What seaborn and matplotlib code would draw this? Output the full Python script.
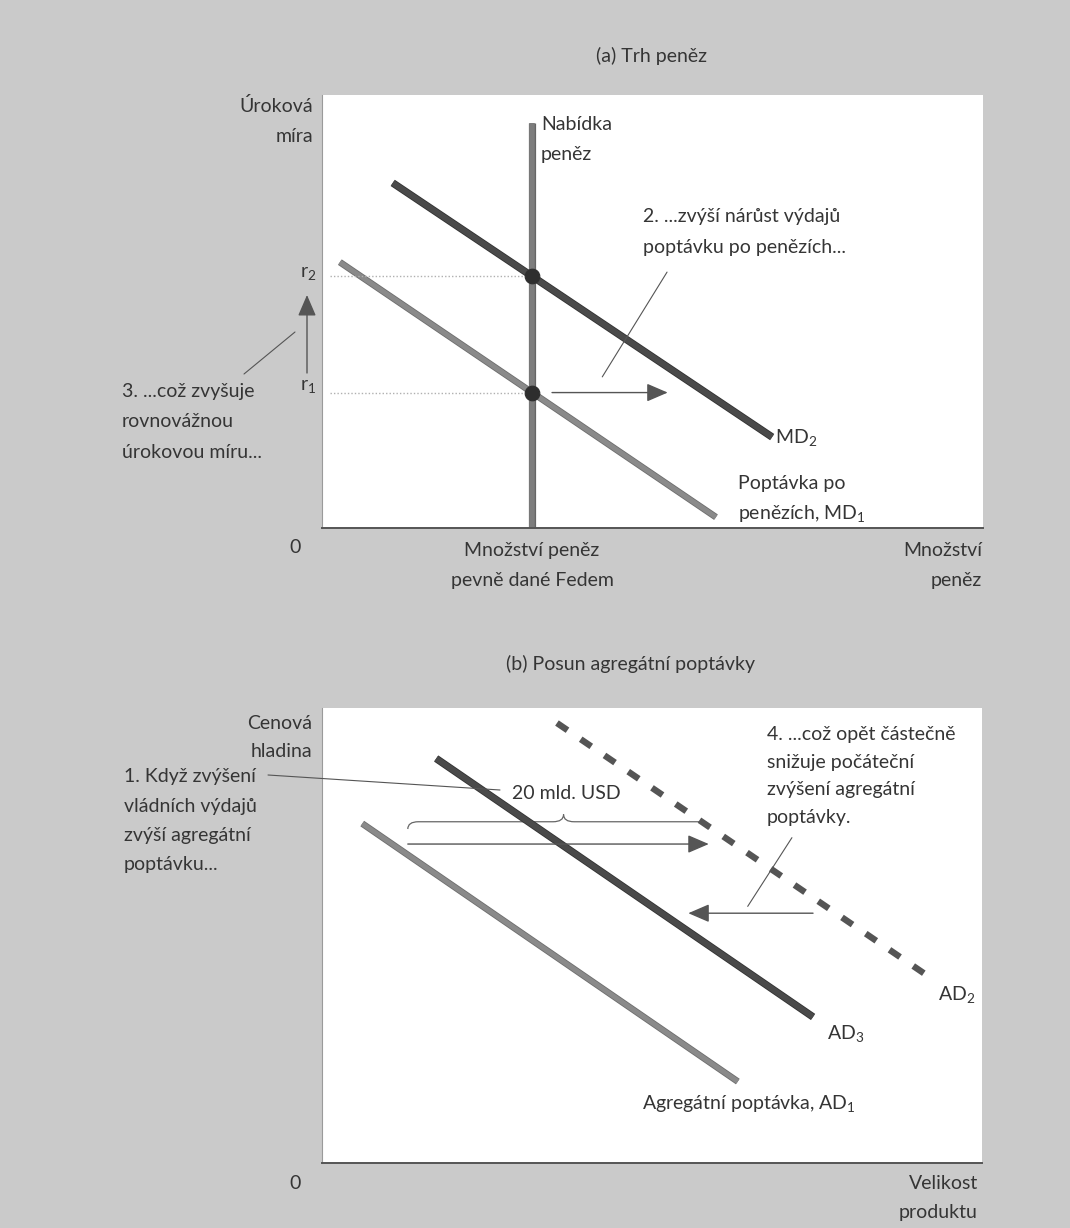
import numpy as np
import pandas as pd
import matplotlib
matplotlib.use("Agg")
import matplotlib.pyplot as plt
import matplotlib.patheffects as pe
from matplotlib.path import Path
from matplotlib.patches import PathPatch
import seaborn as sns

# ---------------- data (abstract units, 0-100) ----------------
# Panel (a): money market
md1_q = [2.7, 59.6]
md1_r = [61.4, 2.5]
md2_q = [10.7, 68.1]
md2_r = [79.7, 21.0]
ms_q = [31.8, 31.8]
ms_r = [0.0, 93.5]

# Panel (b): aggregate demand shift
ad1_y = [6.1, 63.0]
ad1_p = [74.6, 17.9]
ad3_y = [17.3, 74.4]
ad3_p = [88.9, 32.1]
ad2_y = [35.6, 91.7]
ad2_p = [96.7, 41.2]
shift_out = [13.0, 58.6]      # 20 mld. USD shift, at price level
shift_out_p = 70.1
shift_back = [74.4, 55.5]     # crowding-out shift back
shift_back_p = 54.9

W, H = 1070, 1228
BG = "#cacaca"
TC = "#353535"
DARK = "#4a4a4a"
MID = "#8a8a8a"

sns.set_theme(style="white")
plt.rcParams["font.family"] = ["Lato", "DejaVu Sans"]
plt.rcParams["mathtext.fontset"] = "custom"
plt.rcParams["mathtext.rm"] = "Lato"
plt.rcParams["mathtext.it"] = "Lato:italic"
plt.rcParams["mathtext.bf"] = "Lato:bold"

fig = plt.figure(figsize=(W / 100, H / 100), dpi=100, facecolor=BG)


def add_ax(x0, y0, x1, y1):
    ax = fig.add_axes([x0 / W, 1 - y1 / H, (x1 - x0) / W, (y1 - y0) / H])
    ax.set_facecolor("white")
    ax.set_xlim(0, 100)
    ax.set_ylim(0, 100)
    ax.set_xticks([])
    ax.set_yticks([])
    for s in ["top", "right"]:
        ax.spines[s].set_visible(False)
    ax.spines["left"].set_color("#9a9a9a")
    ax.spines["left"].set_linewidth(0.8)
    ax.spines["bottom"].set_color("#555555")
    ax.spines["bottom"].set_linewidth(1.4)
    return ax


def txt(x, y, s, ha="left", size=14, **kw):
    fig.text(x / W, 1 - (y + 7) / H, s, ha=ha, va="baseline", fontsize=size,
             color=TC, **kw)


def line(ax, xs, ys, color, lw, edge, **kw):
    df = pd.DataFrame({"x": xs, "y": ys})
    sns.lineplot(data=df, x="x", y="y", ax=ax, color=color, lw=lw,
                 sort=False, estimator=None, **kw)
    l = ax.lines[-1]
    l.set_solid_capstyle("butt")
    if edge:
        l.set_path_effects([pe.Stroke(linewidth=lw + 1.2, foreground=edge), pe.Normal()])
    return l


ARW = dict(arrowstyle="-|>,head_length=0.65,head_width=0.28", mutation_scale=20,
           lw=1.0, color="#555555", shrinkA=0, shrinkB=0)
LEAD = dict(arrowstyle="-", lw=0.8, color="#555555", shrinkA=0, shrinkB=0)

# ======================= Panel (a) =======================
ax1 = add_ax(322, 95, 983, 528)

line(ax1, ms_q, ms_r, "#7d7d7d", 4.0, "#666666")
line(ax1, md1_q, md1_r, MID, 3.6, "#6e6e6e")
line(ax1, md2_q, md2_r, DARK, 4.2, "#333333")

# equilibrium interest rates
r1 = float(np.interp(ms_q[0], md1_q, md1_r))
r2 = float(np.interp(ms_q[0], md2_q, md2_r))
for r in (r1, r2):
    ax1.plot([1.2, ms_q[0]], [r, r], ls=(0, (1, 1.5)), color="#b0b0b0", lw=1.0)
sns.scatterplot(x=[ms_q[0], ms_q[0]], y=[r1, r2], ax=ax1, color="#2e2e2e",
                s=110, edgecolor="#2e2e2e", zorder=5, legend=False)

# shift arrow of money demand
ax1.annotate("", xy=(52.3, r1), xytext=(34.8, r1), arrowprops=ARW)
# leader line for note 2
ax1.annotate("", xy=(52.2, 59.1), xytext=(42.4, 34.9), arrowprops=LEAD)

# rise of interest rate arrow (left of axis)
ax1.annotate("", xy=(307, H - 295), xytext=(307, H - 373), xycoords="figure pixels",
             textcoords="figure pixels", arrowprops=ARW, annotation_clip=False)
ax1.annotate("", xy=(295, H - 332), xytext=(244, H - 374), xycoords="figure pixels",
             textcoords="figure pixels", arrowprops=LEAD, annotation_clip=False)

txt(652, 55, "(a) Trh peněz", ha="center", size=14)
txt(313, 105, "Úroková", ha="right")
txt(313, 135, "míra", ha="right")
txt(541, 123, "Nabídka")
txt(541, 153, "peněz")
txt(643, 215, "2. ...zvýší nárůst výdajů")
txt(643, 246, "poptávku po penězích...")
txt(300, 270, "r$_{2}$", size=14)
txt(300, 383, "r$_{1}$", size=14)
txt(122, 390, "3. ...což zvyšuje")
txt(122, 420, "rovnovážnou")
txt(122, 451, "úrokovou míru...")
txt(775, 436, "MD$_{2}$")
txt(738, 482, "Poptávka po")
txt(738, 512, "penězích, MD$_{1}$")
txt(295, 546, "0", ha="center")
txt(532, 549, "Množství peněz", ha="center")
txt(532, 579, "pevně dané Fedem", ha="center")
txt(982, 549, "Množství", ha="right")
txt(982, 579, "peněz", ha="right")

# ======================= Panel (b) =======================
ax2 = add_ax(322, 708, 982, 1163)

line(ax2, ad1_y, ad1_p, MID, 3.6, "#6e6e6e")
line(ax2, ad3_y, ad3_p, DARK, 4.2, "#333333")
l2 = line(ax2, ad2_y, ad2_p, "#555555", 4.6, None)
l2.set_linestyle((0, (2.0, 2.5)))
l2.set_dash_capstyle("butt")

# brace over 20 mld. USD shift
x0, x1 = shift_out
xm = (x0 + x1) / 2 + 0.8
yb, hb, eb = 75.0, 1.6, 1.6
verts = [(x0, yb - hb), (x0, yb), (x0 + eb, yb), (xm - eb, yb), (xm, yb), (xm, yb + hb),
         (xm, yb), (xm + eb, yb), (x1 - eb, yb), (x1, yb), (x1, yb - hb)]
codes = [Path.MOVETO, Path.CURVE3, Path.CURVE3, Path.LINETO, Path.CURVE3, Path.CURVE3,
         Path.CURVE3, Path.CURVE3, Path.LINETO, Path.CURVE3, Path.CURVE3]
ax2.add_patch(PathPatch(Path(verts, codes), fill=False, lw=0.9, edgecolor="#666666"))

ax2.annotate("", xy=(shift_out[1], shift_out_p), xytext=(shift_out[0], shift_out_p),
             arrowprops=ARW)
ax2.annotate("", xy=(shift_back[1], shift_back_p), xytext=(shift_back[0], shift_back_p),
             arrowprops=ARW)
# leader for note 4
ax2.annotate("", xy=(71.2, 71.5), xytext=(64.5, 56.4), arrowprops=LEAD)
# leader for note 1
ax2.annotate("", xy=(500, H - 790), xytext=(268, H - 775), xycoords="figure pixels",
             textcoords="figure pixels", arrowprops=LEAD, annotation_clip=False)

txt(630, 663, "(b) Posun agregátní poptávky", ha="center", size=14)
txt(312, 722, "Cenová", ha="right")
txt(312, 750, "hladina", ha="right")
txt(124, 775, "1. Když zvýšení")
txt(124, 805, "vládních výdajů")
txt(124, 834, "zvýší agregátní")
txt(124, 863, "poptávku...")
txt(512, 792, "20 mld. USD")
txt(767, 733, "4. ...což opět částečně")
txt(767, 761, "snižuje počáteční")
txt(767, 788, "zvýšení agregátní")
txt(767, 816, "poptávky.")
txt(938, 993, "AD$_{2}$")
txt(827, 1032, "AD$_{3}$")
txt(642, 1102, "Agregátní poptávka, AD$_{1}$")
txt(295, 1182, "0", ha="center")
txt(978, 1182, "Velikost", ha="right")
txt(978, 1211, "produktu", ha="right")

fig.savefig("out.png", dpi=100, facecolor=BG)
